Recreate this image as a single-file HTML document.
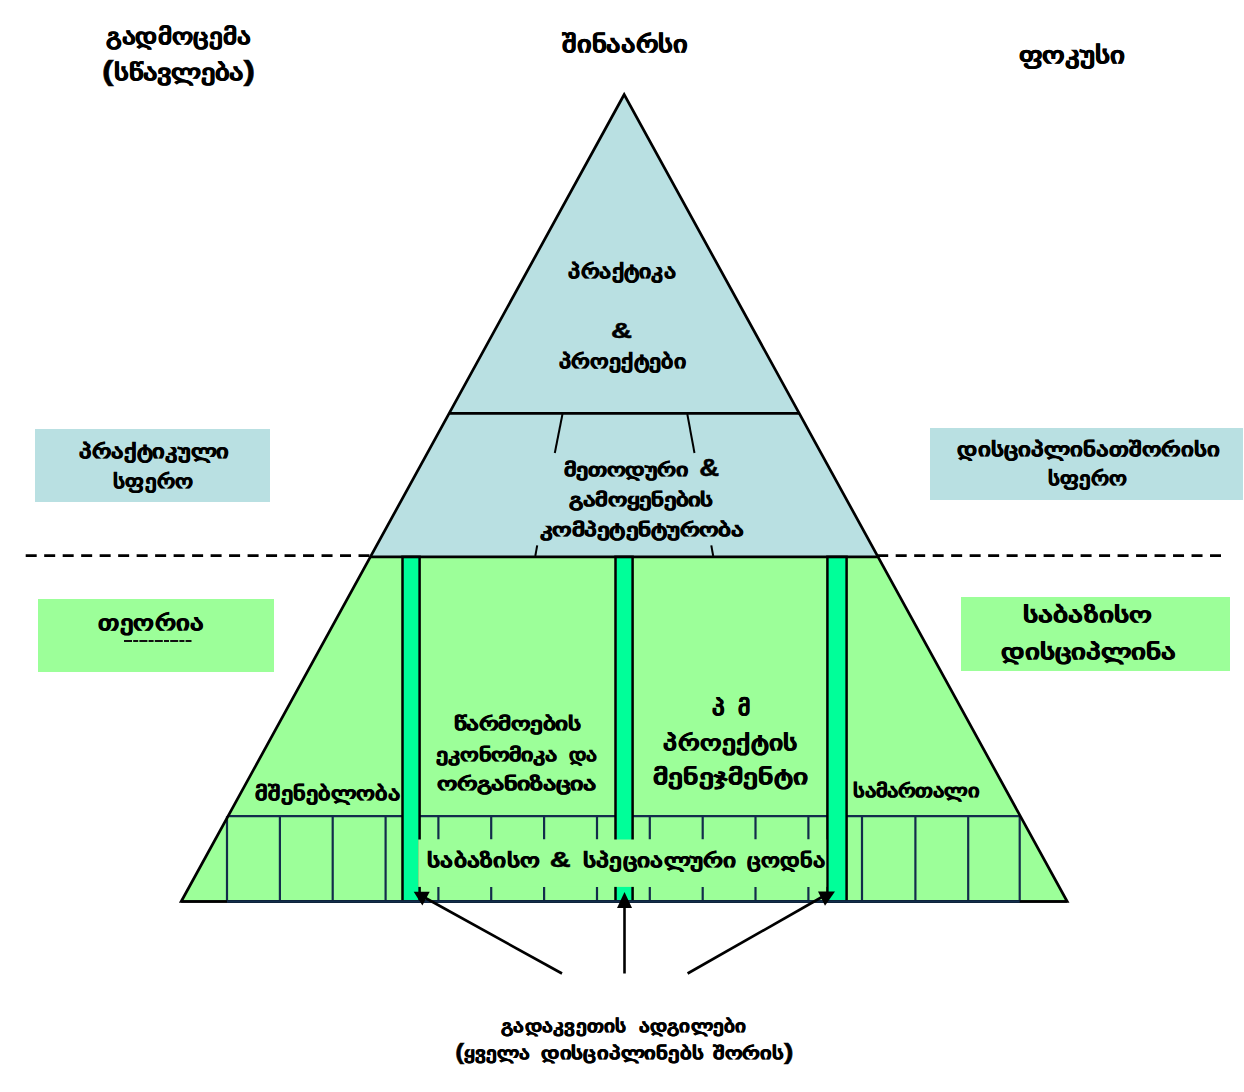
<!DOCTYPE html>
<html>
<head>
<meta charset="utf-8">
<style>
html,body{margin:0;padding:0;background:#ffffff;}
body{width:1244px;height:1092px;position:relative;overflow:hidden;font-family:"Liberation Sans",sans-serif;}
svg{position:absolute;left:0;top:0;}
svg text{font-family:"Liberation Sans",sans-serif;font-weight:bold;fill:#000;stroke:#000;stroke-width:0.5px;}
</style>
</head>
<body>
<svg width="1244" height="1092" viewBox="0 0 1244 1092">
  <!-- side label boxes -->
  <rect x="35" y="429" width="235" height="73" fill="#B9E0E2"/>
  <rect x="38" y="599" width="236" height="73" fill="#9CFF99"/>
  <rect x="930" y="428" width="313" height="72" fill="#B9E0E2"/>
  <rect x="961" y="597" width="269" height="74" fill="#9CFF99"/>

  <!-- pyramid fills -->
  <polygon points="624.2,94.5 370.7,556.8 877.7,556.8" fill="#B9E0E2"/>
  <polygon points="370.7,556.8 877.7,556.8 1067.2,901.5 181.2,901.5" fill="#9CFF99"/>

  <!-- base line (black) -->
  <line x1="181.2" y1="901.5" x2="1067.2" y2="901.5" stroke="#000" stroke-width="2.7"/>

  <!-- grid -->
  <g stroke="#122D4B" stroke-width="2.2" fill="none">
    <line x1="228" y1="816.2" x2="1019.5" y2="816.2"/>
    <line x1="228" y1="901.5" x2="1019.5" y2="901.5"/>
  </g>
  <g stroke="#122D4B" stroke-width="2.2">
    <line x1="227.0" y1="816.2" x2="227.0" y2="901.5"/>
    <line x1="279.9" y1="816.2" x2="279.9" y2="901.5"/>
    <line x1="332.7" y1="816.2" x2="332.7" y2="901.5"/>
    <line x1="385.6" y1="816.2" x2="385.6" y2="901.5"/>
    <line x1="438.4" y1="816.2" x2="438.4" y2="839.5"/><line x1="438.4" y1="887" x2="438.4" y2="901.5"/>
    <line x1="491.2" y1="816.2" x2="491.2" y2="839.5"/><line x1="491.2" y1="887" x2="491.2" y2="901.5"/>
    <line x1="544.1" y1="816.2" x2="544.1" y2="839.5"/><line x1="544.1" y1="887" x2="544.1" y2="901.5"/>
    <line x1="597.0" y1="816.2" x2="597.0" y2="839.5"/><line x1="597.0" y1="887" x2="597.0" y2="901.5"/>
    <line x1="649.8" y1="816.2" x2="649.8" y2="839.5"/><line x1="649.8" y1="887" x2="649.8" y2="901.5"/>
    <line x1="702.7" y1="816.2" x2="702.7" y2="839.5"/><line x1="702.7" y1="887" x2="702.7" y2="901.5"/>
    <line x1="755.5" y1="816.2" x2="755.5" y2="839.5"/><line x1="755.5" y1="887" x2="755.5" y2="901.5"/>
    <line x1="808.4" y1="816.2" x2="808.4" y2="839.5"/><line x1="808.4" y1="887" x2="808.4" y2="901.5"/>
    <line x1="862.0" y1="816.2" x2="862.0" y2="901.5"/>
    <line x1="915.4" y1="816.2" x2="915.4" y2="901.5"/>
    <line x1="968.2" y1="816.2" x2="968.2" y2="901.5"/>
    <line x1="1019.7" y1="816.2" x2="1019.7" y2="901.5"/>
  </g>

  <!-- bars -->
  <g stroke="#000" stroke-width="2.5" fill="#00FF99">
    <rect x="402.5" y="556.8" width="17.1" height="344.7"/>
    <rect x="615.5" y="556.8" width="17.1" height="344.7"/>
    <rect x="827.4" y="556.8" width="19.2" height="344.7"/>
  </g>

  <!-- text box over grid -->
  <rect x="418.2" y="839.5" width="408" height="47.4" fill="#9CFF99"/>

  <!-- outline lines -->
  <g stroke="#000" stroke-width="2.7" fill="none" stroke-linejoin="miter" stroke-miterlimit="10">
    <polygon points="624.2,94.5 181.2,901.5 1067.2,901.5" fill="none"/>
    <line x1="449" y1="413.4" x2="799.4" y2="413.4"/>
    <line x1="370.7" y1="556.8" x2="877.7" y2="556.8"/>
  </g>
  <line x1="227" y1="901.5" x2="1019.7" y2="901.5" stroke="#122D4B" stroke-width="2.6"/>
  <!-- dashed line -->
  <g stroke="#000" stroke-width="2.8" stroke-dasharray="11 7.49">
    <line x1="25.7" y1="555.6" x2="371" y2="555.6"/>
    <line x1="877.2" y1="555.6" x2="1221" y2="555.6"/>
  </g>
  <!-- short slanted lines -->
  <g stroke="#000" stroke-width="2">
    <line x1="562.5" y1="414" x2="554.8" y2="453"/>
    <line x1="537.2" y1="545.3" x2="535.3" y2="556"/>
    <line x1="687.3" y1="414" x2="694.5" y2="453"/>
    <line x1="711.3" y1="545.3" x2="713.2" y2="556"/>
  </g>

  <!-- arrows -->
  <g stroke="#000" stroke-width="2.6">
    <line x1="562" y1="973.5" x2="420" y2="895"/>
    <line x1="624.5" y1="973.5" x2="624.5" y2="905"/>
    <line x1="687.6" y1="973.5" x2="822" y2="897"/>
  </g>
  <g fill="#000">
    <polygon points="413.7,891.7 429.7,891.7 422.4,905.4"/>
    <polygon points="624.5,892 617,908 632,908"/>
    <polygon points="818,891.5 835,891.5 825,905.7"/>
  </g>

  <!-- texts -->
  <g>
    <text x="106.0" y="44.4" font-size="22.1" textLength="144.8" lengthAdjust="spacingAndGlyphs">გადმოცემა</text>
    <text x="102.1" y="79.8" font-size="22.1" textLength="152.9" lengthAdjust="spacingAndGlyphs"><tspan font-size="27">(</tspan>სწავლება<tspan font-size="27">)</tspan></text>
    <text x="562.1" y="52" font-size="23.1" textLength="125.6" lengthAdjust="spacingAndGlyphs">შინაარსი</text>
    <text x="1018.7" y="62.7" font-size="23.1" textLength="106.3" lengthAdjust="spacingAndGlyphs">ფოკუსი</text>
    <text x="568.1" y="277.5" font-size="19.1" textLength="108.0" lengthAdjust="spacingAndGlyphs">პრაქტიკა</text>
    <text x="611.0" y="337.5" font-size="22.5" textLength="21.0" lengthAdjust="spacingAndGlyphs">&amp;</text>
    <text x="558.9" y="367.5" font-size="19.1" textLength="127.1" lengthAdjust="spacingAndGlyphs">პროექტები</text>
    <text x="564.0" y="475.7" font-size="17.9" textLength="123.7" lengthAdjust="spacingAndGlyphs">მეთოდური</text>
    <text x="699.2" y="475.7" font-size="23.5" textLength="19.9" lengthAdjust="spacingAndGlyphs">&amp;</text>
    <text x="569.4" y="506" font-size="17.9" textLength="143.3" lengthAdjust="spacingAndGlyphs">გამოყენების</text>
    <text x="539.9" y="536" font-size="17.9" textLength="203.5" lengthAdjust="spacingAndGlyphs">კომპეტენტურობა</text>
    <text x="79.0" y="457.7" font-size="18.6" textLength="150.2" lengthAdjust="spacingAndGlyphs">პრაქტიკული</text>
    <text x="113.2" y="487.6" font-size="18.6" textLength="79.6" lengthAdjust="spacingAndGlyphs">სფერო</text>
    <text x="956.9" y="456" font-size="18.6" textLength="262.7" lengthAdjust="spacingAndGlyphs">დისციპლინათშორისი</text>
    <text x="1047.8" y="485" font-size="18.6" textLength="79.0" lengthAdjust="spacingAndGlyphs">სფერო</text>
    <text x="98.1" y="630" font-size="20.8" textLength="106.1" lengthAdjust="spacingAndGlyphs">თეორია</text>
    <text x="1022.9" y="622" font-size="20.8" textLength="129.9" lengthAdjust="spacingAndGlyphs">საბაზისო</text>
    <text x="1001.3" y="658.5" font-size="20.8" textLength="175.1" lengthAdjust="spacingAndGlyphs">დისციპლინა</text>
    <text x="453.8" y="729.6" font-size="17.9" textLength="126.6" lengthAdjust="spacingAndGlyphs">წარმოების</text>
    <text x="436.3" y="760.5" font-size="17.9" textLength="120.7" lengthAdjust="spacingAndGlyphs">ეკონომიკა</text>
    <text x="568.7" y="760.5" font-size="17.9" textLength="28.4" lengthAdjust="spacingAndGlyphs">და</text>
    <text x="436.7" y="790" font-size="17.9" textLength="159.7" lengthAdjust="spacingAndGlyphs">ორგანიზაცია</text>
    <text x="711.6" y="714.6" font-size="20.9" textLength="13.0" lengthAdjust="spacingAndGlyphs">პ</text>
    <text x="738.1" y="714.6" font-size="20.9" textLength="12.3" lengthAdjust="spacingAndGlyphs">მ</text>
    <text x="663.4" y="749.5" font-size="20.9" textLength="134.2" lengthAdjust="spacingAndGlyphs">პროექტის</text>
    <text x="652.9" y="783.5" font-size="20.9" textLength="155.6" lengthAdjust="spacingAndGlyphs">მენეჯმენტი</text>
    <text x="255.3" y="799.8" font-size="18.9" textLength="145.3" lengthAdjust="spacingAndGlyphs">მშენებლობა</text>
    <text x="853.4" y="796.8" font-size="17.7" textLength="125.3" lengthAdjust="spacingAndGlyphs">სამართალი</text>
    <text x="427.1" y="866.5" font-size="18.5" textLength="112.7" lengthAdjust="spacingAndGlyphs">საბაზისო</text>
    <text x="549.7" y="866.5" font-size="22" textLength="20.9" lengthAdjust="spacingAndGlyphs">&amp;</text>
    <text x="582.9" y="866.5" font-size="18.5" textLength="153.5" lengthAdjust="spacingAndGlyphs">სპეციალური</text>
    <text x="746.9" y="866.5" font-size="18.5" textLength="78.4" lengthAdjust="spacingAndGlyphs">ცოდნა</text>
    <text x="501.0" y="1031.7" font-size="17.2" textLength="125.5" lengthAdjust="spacingAndGlyphs">გადაკვეთის</text>
    <text x="638.6" y="1031.7" font-size="17.2" textLength="107.6" lengthAdjust="spacingAndGlyphs">ადგილები</text>
    <text x="455.2" y="1059.4" font-size="17.2" textLength="75.4" lengthAdjust="spacingAndGlyphs"><tspan font-size="21.5">(</tspan>ყველა</text>
    <text x="541.0" y="1059.4" font-size="17.2" textLength="163.0" lengthAdjust="spacingAndGlyphs">დისციპლინებს</text>
    <text x="712.9" y="1059.4" font-size="17.2" textLength="80.6" lengthAdjust="spacingAndGlyphs">შორის<tspan font-size="21.5">)</tspan></text>
  </g>
  <!-- faint underline under theory -->
  <line x1="124" y1="641" x2="191.5" y2="641" stroke="#111" stroke-width="1.8" stroke-dasharray="8 1.2 5 1.2"/>
</svg>
</body>
</html>
